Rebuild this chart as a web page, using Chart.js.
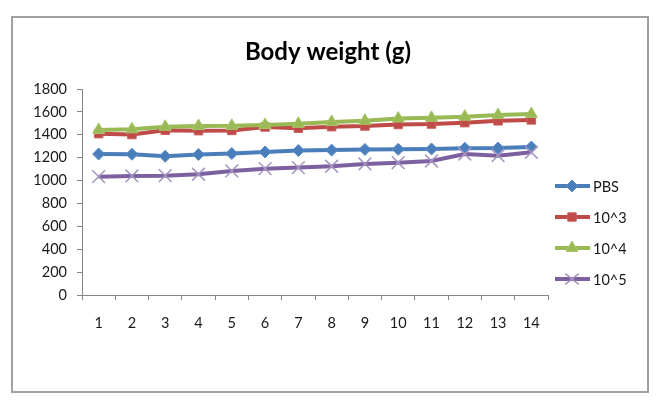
<!DOCTYPE html>
<html>
<head>
<meta charset="utf-8">
<script src="https://cdn.jsdelivr.net/npm/chart.js@4.4.1/dist/chart.umd.min.js"></script>
<style>
  html, body { margin: 0; padding: 0; background: #fff; }
  #wrap { width: 660px; height: 402px; }
</style>
</head>
<body>
<div id="wrap"><canvas id="chart" width="660" height="402"></canvas></div>
<script>
// days on the x axis
var days = ["1", "2", "3", "4", "5", "6", "7", "8", "9", "10", "11", "12", "13", "14"];

// body weight per group
var pbs  = [1232, 1230, 1212, 1228, 1236, 1250, 1262, 1266, 1272, 1273, 1276, 1282, 1284, 1293];
var e3   = [1410, 1402, 1440, 1436, 1438, 1468, 1458, 1471, 1477, 1490, 1494, 1506, 1522, 1530];
var e4   = [1442, 1448, 1470, 1477, 1478, 1486, 1496, 1512, 1522, 1542, 1548, 1558, 1572, 1582];
var e5   = [1034, 1040, 1043, 1055, 1084, 1104, 1113, 1125, 1145, 1156, 1171, 1232, 1217, 1247];

var seriesNames = ["PBS", "10^3", "10^4", "10^5"];
var chartTitle = "Body weight (g)";

var yMin = 0;
var yMax = 1800;
var yStep = 200;

var fontName = "Lato, 'Open Sans', sans-serif";

// outer frame + title, like the excel chart
var framePlugin = {
  id: "frame",
  beforeDraw: function(chart) {
    var c = chart.ctx;
    c.save();
    c.fillStyle = "#fff";
    c.fillRect(0, 0, chart.width, chart.height);
    c.strokeStyle = "#a0a0a0";
    c.lineWidth = 2;
    c.strokeRect(12, 17, 636, 375);
    c.fillStyle = "#000";
    c.font = "bold 24px " + fontName;
    c.textAlign = "center";
    c.textBaseline = "middle";
    c.fillText(chartTitle, 328, 52);
    c.restore();
  }
};

// legend on the right with line + marker icons
var legendPlugin = {
  id: "sideLegend",
  afterDraw: function(chart) {
    var c = chart.ctx;
    var rows = [186, 217, 248, 279];
    c.save();
    chart.data.datasets.forEach(function(ds, i) {
      var y = rows[i];
      c.strokeStyle = ds.borderColor;
      c.lineWidth = ds.borderWidth;
      c.beginPath();
      c.moveTo(555, y);
      c.lineTo(590, y);
      c.stroke();
      c.fillStyle = ds.pointBackgroundColor;
      c.strokeStyle = ds.pointBorderColor;
      c.lineWidth = ds.pointBorderWidth;
      drawMarker(c, ds.pointStyle, ds.pointRadius, 572, y);
      c.fillStyle = "#1a1a1a";
      c.font = "14.5px " + fontName;
      c.textBaseline = "middle";
      c.textAlign = "left";
      c.fillText(ds.label, 593, y + 1);
    });
    c.restore();
  }
};

function drawMarker(c, style, r, x, y) {
  c.save();
  c.beginPath();
  if (style === "rectRot") {
    c.moveTo(x, y - r); c.lineTo(x + r, y); c.lineTo(x, y + r); c.lineTo(x - r, y); c.closePath();
    c.fill(); c.stroke();
  } else if (style === "rect") {
    c.rect(x - r * 0.7, y - r * 0.7, r * 1.4, r * 1.4);
    c.fill(); c.stroke();
  } else if (style === "triangle") {
    c.moveTo(x, y - r); c.lineTo(x + r * 0.85, y + r * 0.5); c.lineTo(x - r * 0.85, y + r * 0.5); c.closePath();
    c.fill(); c.stroke();
  } else {
    c.moveTo(x - r * 0.75, y - r * 0.6); c.lineTo(x + r * 0.75, y + r * 0.6);
    c.moveTo(x + r * 0.75, y - r * 0.6); c.lineTo(x - r * 0.75, y + r * 0.6);
    c.stroke();
  }
  c.restore();
}

var ctx = document.getElementById("chart");

var data = {
  labels: days,
  datasets: [
    {
      label: seriesNames[0],
      data: pbs,
      borderColor: "#4a7ebb",
      borderWidth: 4,
      pointStyle: "rectRot",
      pointRadius: 6,
      pointBackgroundColor: "#4a7ebb",
      pointBorderColor: "#5b8ccb",
      pointBorderWidth: 1,
      order: 4
    },
    {
      label: seriesNames[1],
      data: e3,
      borderColor: "#be4b48",
      borderWidth: 4,
      pointStyle: "rect",
      pointRadius: 6,
      pointBackgroundColor: "#be4b48",
      pointBorderColor: "#c85c59",
      pointBorderWidth: 1,
      order: 3
    },
    {
      label: seriesNames[2],
      data: e4,
      borderColor: "#98b954",
      borderWidth: 4,
      pointStyle: "triangle",
      pointRadius: 7,
      pointBackgroundColor: "#98b954",
      pointBorderColor: "#a8c66a",
      pointBorderWidth: 1,
      order: 2
    },
    {
      label: seriesNames[3],
      data: e5,
      borderColor: "#7d60a0",
      borderWidth: 4,
      pointStyle: "crossRot",
      pointRadius: 9,
      pointBackgroundColor: "#a594c0",
      pointBorderColor: "#a594c0",
      pointBorderWidth: 1.5,
      order: 1
    }
  ]
};

var options = {
  responsive: false,
  animation: false,
  devicePixelRatio: 1,
  layout: {
    padding: { left: 12, right: 112, top: 89, bottom: 10 }
  },
  elements: {
    line: { tension: 0 }
  },
  plugins: {
    legend: { display: false },
    tooltip: { enabled: false },
    title: { display: false }
  },
  scales: {
    x: {
      offset: true,
      grid: {
        offset: true,
        drawOnChartArea: false,
        drawTicks: true,
        tickLength: 5,
        color: "#868686"
      },
      border: { display: true, color: "#868686", width: 1 },
      ticks: {
        color: "#1a1a1a",
        padding: 15,
        maxRotation: 0,
        font: { family: fontName, size: 14.5 }
      },
      afterFit: function(scale) { scale.height = 97; }
    },
    y: {
      min: yMin,
      max: yMax,
      grid: {
        drawOnChartArea: false,
        drawTicks: true,
        tickLength: 5,
        color: "#868686"
      },
      border: { display: true, color: "#868686", width: 1 },
      ticks: {
        stepSize: yStep,
        color: "#1a1a1a",
        padding: 10,
        font: { family: fontName, size: 14.5 },
        callback: function(value) { return String(value); }
      },
      afterFit: function(scale) { scale.width = 70; }
    }
  }
};

var chart = new Chart(ctx, {
  type: "line",
  data: data,
  options: options,
  plugins: [framePlugin, legendPlugin]
});
</script>
</body>
</html>
